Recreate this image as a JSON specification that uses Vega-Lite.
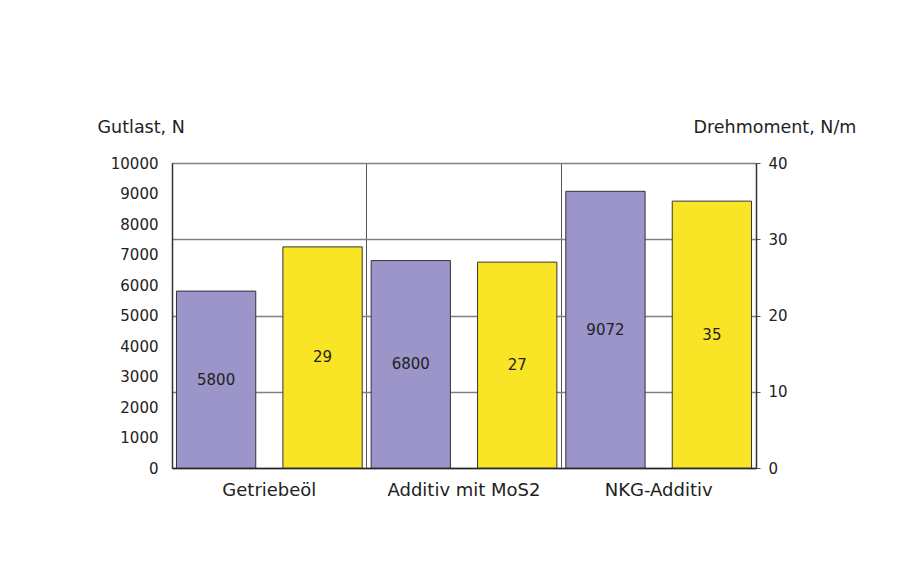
{
  "$schema": "https://vega.github.io/schema/vega-lite/v6.json",
  "autosize": "none",
  "padding": {"left": 172, "top": 163, "right": 156, "bottom": 114},
  "width": 584,
  "height": 305,
  "background": "white",
  "config": {
    "font": "DejaVu Sans",
    "view": {"stroke": "#333333", "strokeWidth": 1},
    "axis": {"labelFont": "DejaVu Sans", "titleFont": "DejaVu Sans", "labelColor": "#222222", "titleColor": "#222222", "titleFontWeight": "normal", "domainColor": "#333333", "labelOverlap": false}
  },
  "data": {
    "values": [
      {"category": "Getriebeöl", "series": "Gutlast", "value": 5800},
      {"category": "Getriebeöl", "series": "Drehmoment", "value": 29},
      {"category": "Additiv mit MoS2", "series": "Gutlast", "value": 6800},
      {"category": "Additiv mit MoS2", "series": "Drehmoment", "value": 27},
      {"category": "NKG-Additiv", "series": "Gutlast", "value": 9072},
      {"category": "NKG-Additiv", "series": "Drehmoment", "value": 35}
    ]
  },
  "transform": [{"calculate": "datum.value / 2", "as": "mid"}],
  "encoding": {
    "x": {
      "field": "category", "type": "nominal", "sort": null,
      "scale": {"paddingInner": 0, "paddingOuter": 0},
      "axis": {"title": null, "labelAngle": 0, "labelFontSize": 18, "labelPadding": 13, "ticks": false, "grid": true, "bandPosition": 0, "gridColor": "#555555", "gridWidth": 1, "domainWidth": 1.5, "domainColor": "#222222"}
    },
    "xOffset": {
      "field": "series", "type": "nominal",
      "scale": {"domain": ["Gutlast", "Drehmoment"], "paddingInner": 0.255, "paddingOuter": 0.042}
    }
  },
  "layer": [
    {
      "transform": [{"filter": "datum.series === 'Gutlast'"}],
      "layer": [
        {
          "mark": {"type": "bar", "color": "#9B95C9", "stroke": "#333333", "strokeWidth": 1},
          "encoding": {
            "y": {
              "field": "value", "type": "quantitative",
              "scale": {"domain": [0, 10000], "nice": false},
              "axis": {"orient": "left", "title": "Gutlast, N", "titleAngle": 0, "titleX": -75, "titleY": -36, "titleAlign": "left", "titleBaseline": "middle", "titleFontSize": 17.5, "values": [0, 1000, 2000, 3000, 4000, 5000, 6000, 7000, 8000, 9000, 10000], "format": "d", "labelFontSize": 15, "labelPadding": 14, "labelOverlap": false, "ticks": false, "grid": false, "domainColor": "#333333", "domainWidth": 1.5}
            }
          }
        },
        {
          "mark": {"type": "text", "fontSize": 15, "color": "#222222", "baseline": "middle", "align": "center"},
          "encoding": {
            "y": {
              "field": "mid", "type": "quantitative",
              "scale": {"domain": [0, 10000], "nice": false},
              "axis": {"orient": "left", "title": "Gutlast, N", "titleAngle": 0, "titleX": -75, "titleY": -36, "titleAlign": "left", "titleBaseline": "middle", "titleFontSize": 17.5, "values": [0, 1000, 2000, 3000, 4000, 5000, 6000, 7000, 8000, 9000, 10000], "format": "d", "labelFontSize": 15, "labelPadding": 14, "labelOverlap": false, "ticks": false, "grid": false, "domainColor": "#333333", "domainWidth": 1.5}
            },
            "text": {"field": "value", "type": "quantitative", "format": "d"}
          }
        }
      ]
    },
    {
      "transform": [{"filter": "datum.series === 'Drehmoment'"}],
      "layer": [
        {
          "mark": {"type": "bar", "color": "#F9E526", "stroke": "#333333", "strokeWidth": 1},
          "encoding": {
            "y": {
              "field": "value", "type": "quantitative",
              "scale": {"domain": [0, 40], "nice": false},
              "axis": {"orient": "right", "title": "Drehmoment, N/m", "titleAngle": 0, "titleX": -63, "titleY": -36, "titleAlign": "left", "titleBaseline": "middle", "titleFontSize": 17.5, "values": [0, 10, 20, 30, 40], "labelFontSize": 15, "labelPadding": 8, "tickSize": 4, "tickColor": "#555555", "grid": true, "gridColor": "#808080", "gridWidth": 1.5, "domainColor": "#333333", "domainWidth": 1.5}
            }
          }
        },
        {
          "mark": {"type": "text", "fontSize": 15, "color": "#222222", "baseline": "middle", "align": "center"},
          "encoding": {
            "y": {
              "field": "mid", "type": "quantitative",
              "scale": {"domain": [0, 40], "nice": false},
              "axis": {"orient": "right", "title": "Drehmoment, N/m", "titleAngle": 0, "titleX": -63, "titleY": -36, "titleAlign": "left", "titleBaseline": "middle", "titleFontSize": 17.5, "values": [0, 10, 20, 30, 40], "labelFontSize": 15, "labelPadding": 8, "tickSize": 4, "tickColor": "#555555", "grid": true, "gridColor": "#808080", "gridWidth": 1.5, "domainColor": "#333333", "domainWidth": 1.5}
            },
            "text": {"field": "value", "type": "quantitative", "format": "d"}
          }
        }
      ]
    }
  ],
  "resolve": {"scale": {"y": "independent"}, "axis": {"y": "independent"}}
}
